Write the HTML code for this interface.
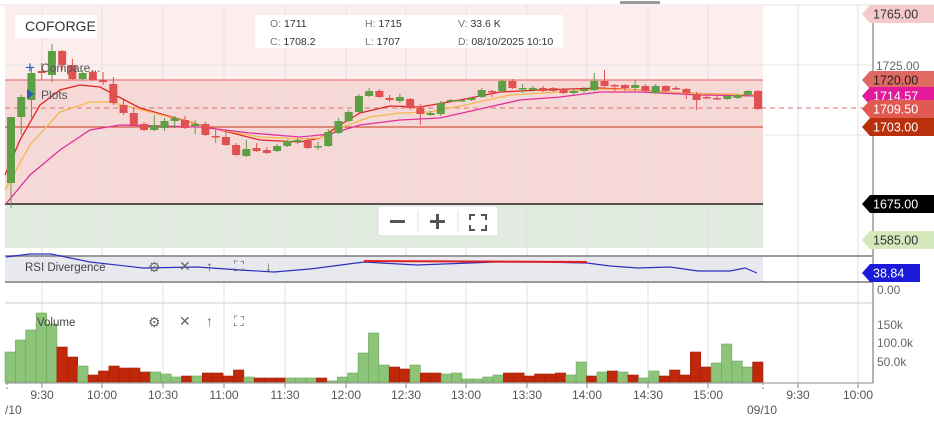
<!DOCTYPE html>
<html><head><meta charset="utf-8"><style>
body{margin:0;background:#fff;width:934px;height:423px;overflow:hidden;font-family:"Liberation Sans",sans-serif}
svg{position:absolute;left:0;top:0}
</style></head><body>
<svg id="s" width="934" height="423" xmlns="http://www.w3.org/2000/svg" font-family="Liberation Sans, sans-serif">
<rect x="0" y="0" width="934" height="423" fill="#fff"/>
<line x1="0" y1="5" x2="934" y2="5" stroke="#e4e4e4"/>
<rect x="620" y="1" width="40" height="3" fill="#999"/>
<rect x="5" y="5" width="758" height="75" fill="#fdeeee"/>
<rect x="5" y="80" width="758" height="125" fill="#f6d8d6"/>
<rect x="5" y="205" width="758" height="43" fill="#e2ebe0"/>
<g id="grid" stroke="#e2e2e2" stroke-width="1"></g>
<line x1="5" y1="65" x2="873" y2="65" stroke="#e4e4e4"/>
<line x1="5" y1="135" x2="873" y2="135" stroke="#e4e4e4"/>
<line x1="5" y1="80" x2="763" y2="80" stroke="#e06060"/>
<line x1="5" y1="127" x2="763" y2="127" stroke="#c8381e"/>
<line x1="5" y1="108" x2="865" y2="108" stroke="#e07070" stroke-dasharray="5,4"/>
<line x1="5" y1="204" x2="763" y2="204" stroke="#222" stroke-width="1.5"/>
<g id="ma" fill="none" stroke-width="1.3"></g>
<g id="candles"></g>
<line x1="873" y1="5" x2="873" y2="383" stroke="#666"/>
<rect x="5" y="256" width="758" height="26" fill="#e8e9ee"/>
<line x1="5" y1="256" x2="873" y2="256" stroke="#999" stroke-width="2"/>
<line x1="5" y1="282" x2="873" y2="282" stroke="#999" stroke-width="2"/>
<polyline id="rsi" fill="none" stroke="#3030c0" stroke-width="1.2"/>
<line x1="364" y1="261" x2="587" y2="262" stroke="#e02020" stroke-width="2"/>
<line x1="5" y1="303" x2="873" y2="303" stroke="#ccc"/>
<g id="vol"></g>
<line x1="5" y1="383" x2="873" y2="383" stroke="#888"/>
<g id="ticks" font-size="12" fill="#555" text-anchor="middle"></g>
<text x="5" y="414" font-size="12" fill="#555">/10</text>
<text x="762" y="414" font-size="12" fill="#555" text-anchor="middle">09/10</text>
<rect x="15" y="15" width="82" height="23" fill="#fff"/>
<text x="25" y="31" font-size="14" fill="#333">COFORGE</text>
<rect x="255" y="15" width="308" height="33" fill="#fff"/>
<g font-size="10.5" fill="#333">
<text x="270" y="27"><tspan fill="#777">O:</tspan> 1711</text>
<text x="270" y="45"><tspan fill="#777">C:</tspan>  1708.2</text>
<text x="365" y="27"><tspan fill="#777">H:</tspan> 1715</text>
<text x="365" y="45"><tspan fill="#777">L:</tspan>  1707</text>
<text x="458" y="27"><tspan fill="#777">V:</tspan>  33.6 K</text>
<text x="458" y="45"><tspan fill="#777">D:</tspan>  08/10/2025 10:10</text>
</g>
<text x="25" y="73" font-size="17" fill="#2c5fb8">+</text>
<text x="41" y="72" font-size="12" fill="#555">Compare...</text>
<polygon points="27,89 27,99 34,94" fill="#2c5fb8"/>
<text x="41" y="99" font-size="12" fill="#555">Plots</text>
<text x="25" y="271" font-size="11.5" fill="#444">RSI Divergence</text>
<text x="37" y="326" font-size="11.5" fill="#444">Volume</text>
<g font-size="14" fill="#666">
<text x="148" y="272">⚙</text><text x="179" y="271">✕</text><text x="206" y="271">↑</text><text x="234" y="271">⛶</text><text x="265" y="271">↓</text>
<text x="148" y="327">⚙</text><text x="179" y="326">✕</text><text x="206" y="326">↑</text><text x="234" y="326">⛶</text>
</g>
<rect x="378" y="206" width="120" height="30" rx="3" fill="#fff" stroke="#ddd"/>
<line x1="418" y1="210" x2="418" y2="232" stroke="#ddd"/><line x1="458" y1="210" x2="458" y2="232" stroke="#ddd"/>
<rect x="390" y="220" width="15" height="3" fill="#555"/>
<rect x="430" y="220" width="15" height="3" fill="#555"/><rect x="436" y="214" width="3" height="15" fill="#555"/>
<path d="M470 220v-5h5M481 215h5v5M486 225v5h-5M475 230h-5v-5" stroke="#555" stroke-width="2" fill="none"/>
<g id="tags" font-size="12.5"></g>
<g font-size="12" fill="#666">
<text x="876" y="70">1725.00</text>
<text x="877" y="294">0.00</text>
<text x="877" y="329">150k</text>
<text x="877" y="347">100.0k</text>
<text x="877" y="366">50.0k</text>
</g>
</svg>
<script>
const NS="http://www.w3.org/2000/svg";
function el(p,t,a,txt){const e=document.createElementNS(NS,t);for(const k in a)e.setAttribute(k,a[k]);if(txt!==undefined)e.textContent=txt;document.getElementById(p).appendChild(e);return e;}
const xs=[42,102,163,224,285,346,406,466,527,587,648,708,798,858];
const lb=["9:30","10:00","10:30","11:00","11:30","12:00","12:30","13:00","13:30","14:00","14:30","15:00","9:30","10:00"];
xs.forEach((x,i)=>{el("grid","line",{x1:x,y1:5,x2:x,y2:383});el("ticks","line",{x1:x,y1:383,x2:x,y2:388,stroke:"#888"});el("ticks","text",{x:x,y:399},lb[i]);});
el("ticks","line",{x1:7,y1:383,x2:7,y2:390,stroke:"#888","stroke-dasharray":"2,2"});
el("ticks","line",{x1:763,y1:383,x2:763,y2:390,stroke:"#888","stroke-dasharray":"2,2"});
const C=[[117,183,1,117,208],[97,117,1,95,135],[73,100,1,68,118],[71,73,0,63,80],[51,75,1,44,82],[51,65,0,50,70],[65,79,0,59,80],[73,79,1,70,80],[72,80,0,70,81],[80,82,0,72,85],[84,103,0,77,105],[105,113,0,100,115],[113,125,0,107,126],[124,130,0,122,131],[125,130,1,115,131],[121,128,1,118,131],[118,121,1,116,128],[120,128,0,116,129],[124,126,1,120,134],[124,135,0,122,136],[136,137,0,130,143],[137,145,0,130,146],[145,155,0,143,156],[149,156,1,140,157],[148,151,0,143,152],[150,153,0,147,154],[146,151,1,144,152],[141,146,1,140,147],[140,142,1,138,144],[141,148,0,138,149],[146,147,1,142,150],[132,146,1,129,147],[121,133,1,118,134],[112,121,1,110,122],[96,112,1,94,113],[91,96,1,88,97],[91,97,0,89,98],[98,100,0,95,102],[97,101,1,94,103],[99,108,0,98,110],[108,114,0,104,125],[113,115,1,111,116],[103,114,1,101,116],[100,101,1,99,102],[100,101,1,99,101],[98,100,1,97,101],[90,97,1,88,98],[91,92,0,90,97],[81,91,1,80,92],[81,88,0,79,89],[88,89,1,84,93],[88,90,1,86,92],[88,91,0,86,92],[88,91,0,87,92],[89,93,0,88,94],[91,93,1,89,96],[89,91,1,87,93],[81,90,1,73,91],[81,86,0,70,87],[85,86,0,84,92],[85,88,0,84,91],[85,88,1,80,92],[86,91,0,84,92],[86,93,1,84,94],[86,91,0,85,92],[88,89,0,86,90],[89,93,0,88,99],[94,100,0,92,110],[97,98,0,95,99],[98,99,0,95,100],[96,99,1,95,100],[95,98,1,94,99],[91,95,1,90,96],[91,109,0,90,110]];
const sp=(758-11)/(C.length-1);
C.forEach((c,i)=>{const x=11+i*sp;const col=c[2]?"#5e9e45":"#e05252";
el("candles","line",{x1:x,y1:c[3],x2:x,y2:c[4],stroke:col});
el("candles","rect",{x:x-4,y:c[0],width:8,height:Math.max(1.5,c[1]-c[0]),fill:col});});
const MA=[["#e02424","5,175 20,140 40,105 60,90 80,85 100,87 115,95 140,108 200,125 260,140 300,142 320,138 340,125 360,113 390,106 420,107 460,100 500,92 540,90 600,88 640,90 680,93 720,94 755,95"],
["#f5b850","5,190 30,145 60,112 90,102 110,102 150,112 210,128 260,137 300,139 320,138 340,128 370,117 400,113 430,112 470,104 510,95 560,92 600,89 640,90 680,93 755,95"],
["#e0309a","5,205 30,175 60,150 90,130 120,125 200,127 250,133 300,137 330,134 360,125 400,120 440,118 480,109 520,100 560,97 600,92 640,92 700,95 755,96"]];
MA.forEach(m=>el("ma","polyline",{points:m[1],stroke:m[0]}));
document.getElementById("rsi").setAttribute("points","6,257 30,254 51,254 90,262 143,268 197,267 240,270 274,272 310,269 364,262 417,265 470,263 495,262 540,262 587,263 610,266 638,268 670,267 698,271 730,271 745,268 757,273");
const V=[[352,1],[340,1],[330,1],[313,1],[324,1],[347,0],[357,0],[366,1],[375,0],[371,0],[366,0],[368,0],[368,0],[372,0],[372,1],[374,1],[377,1],[376,0],[376,1],[373,0],[373,0],[376,0],[370,0],[377,1],[378,0],[378,0],[378,0],[378,1],[378,1],[378,1],[378,0],[381,1],[377,1],[373,1],[353,1],[333,1],[365,1],[367,0],[369,0],[365,1],[373,0],[373,0],[374,1],[373,1],[379,1],[379,1],[377,1],[375,1],[373,0],[373,0],[376,0],[374,0],[374,0],[373,0],[375,1],[362,1],[376,0],[372,1],[371,0],[372,1],[375,0],[378,1],[371,1],[376,0],[370,0],[375,0],[352,0],[367,0],[363,1],[344,1],[361,1],[367,1],[362,0]];
const n=V.length,w=(763-5)/n;
V.forEach((v,i)=>{const x=5+i*w;el("vol","rect",{x:x,y:v[0],width:w,height:382-v[0],fill:v[1]?"#8cc47a":"#c0280c",stroke:v[1]?"#6aa858":"#a02008","stroke-width":0.6});});
const T=[[14,"1765.00","#f6caca","#333"],[80,"1720.00","#e06a62","#222"],[96,"1714.57","#e3199a","#fff"],[109,"1709.50","#e05a52","#fff"],[127,"1703.00","#b8300c","#fff"],[204,"1675.00","#000","#fff"],[240,"1585.00","#d3e8bb","#333"],[273,"38.84","#1a1ad8","#fff"]];
T.forEach(t=>{const w=t[1].length>5?66:50;el("tags","polygon",{points:`862,${t[0]} 870,${t[0]-9} ${870+w},${t[0]-9} ${870+w},${t[0]+9} 870,${t[0]+9}`,fill:t[2]});
el("tags","text",{x:873,y:t[0]+4.5,fill:t[3]},t[1]);});
</script>
</body></html>
